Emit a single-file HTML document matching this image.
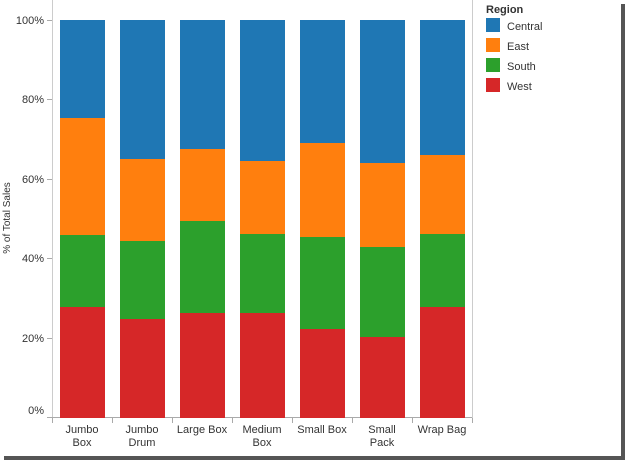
<!DOCTYPE html>
<html><head><style>
body{margin:0;background:#fff}
svg text{font-family:"Liberation Sans",Arial,sans-serif;font-size:11px;fill:#333}
</style></head><body>
<svg width="627" height="462" xmlns="http://www.w3.org/2000/svg">
<rect x="0" y="0" width="621" height="456" fill="#fff"/>
<rect x="621" y="4" width="4" height="454" fill="#555"/>
<rect x="4" y="456" width="621" height="4" fill="#555"/>
<line x1="472.5" y1="0" x2="472.5" y2="418" stroke="#ccc"/>
<line x1="52.5" y1="0" x2="52.5" y2="418" stroke="#ccc"/>
<line x1="52" y1="417.5" x2="472" y2="417.5" stroke="#aaa"/>
<g stroke="#aaa">
<line x1="52.5" y1="418" x2="52.5" y2="423"/><line x1="112.5" y1="418" x2="112.5" y2="423"/>
<line x1="172.5" y1="418" x2="172.5" y2="423"/><line x1="232.5" y1="418" x2="232.5" y2="423"/>
<line x1="292.5" y1="418" x2="292.5" y2="423"/><line x1="352.5" y1="418" x2="352.5" y2="423"/>
<line x1="412.5" y1="418" x2="412.5" y2="423"/><line x1="472.5" y1="418" x2="472.5" y2="423"/>
<line x1="47" y1="20.5" x2="52" y2="20.5"/><line x1="47" y1="99.5" x2="52" y2="99.5"/>
<line x1="47" y1="179.5" x2="52" y2="179.5"/><line x1="47" y1="258.5" x2="52" y2="258.5"/>
<line x1="47" y1="338.5" x2="52" y2="338.5"/><line x1="47" y1="417.5" x2="52" y2="417.5"/>
</g>
<g text-anchor="end">
<text x="44" y="24">100%</text><text x="44" y="103">80%</text><text x="44" y="183">60%</text>
<text x="44" y="262">40%</text><text x="44" y="342">20%</text><text x="44" y="414">0%</text>
</g>
<text transform="translate(10,218) rotate(-90)" text-anchor="middle" style="font-size:10px">% of Total Sales</text>
<g id="bars">
<rect x="60" y="20" width="45" height="98" fill="#1f77b4"/><rect x="60" y="118" width="45" height="117" fill="#ff7f0e"/><rect x="60" y="235" width="45" height="72" fill="#2ca02c"/><rect x="60" y="307" width="45" height="111" fill="#d62728"/>
<rect x="120" y="20" width="45" height="139" fill="#1f77b4"/><rect x="120" y="159" width="45" height="82" fill="#ff7f0e"/><rect x="120" y="241" width="45" height="78" fill="#2ca02c"/><rect x="120" y="319" width="45" height="99" fill="#d62728"/>
<rect x="180" y="20" width="45" height="129" fill="#1f77b4"/><rect x="180" y="149" width="45" height="72" fill="#ff7f0e"/><rect x="180" y="221" width="45" height="92" fill="#2ca02c"/><rect x="180" y="313" width="45" height="105" fill="#d62728"/>
<rect x="240" y="20" width="45" height="141" fill="#1f77b4"/><rect x="240" y="161" width="45" height="73" fill="#ff7f0e"/><rect x="240" y="234" width="45" height="79" fill="#2ca02c"/><rect x="240" y="313" width="45" height="105" fill="#d62728"/>
<rect x="300" y="20" width="45" height="123" fill="#1f77b4"/><rect x="300" y="143" width="45" height="94" fill="#ff7f0e"/><rect x="300" y="237" width="45" height="92" fill="#2ca02c"/><rect x="300" y="329" width="45" height="89" fill="#d62728"/>
<rect x="360" y="20" width="45" height="143" fill="#1f77b4"/><rect x="360" y="163" width="45" height="84" fill="#ff7f0e"/><rect x="360" y="247" width="45" height="90" fill="#2ca02c"/><rect x="360" y="337" width="45" height="81" fill="#d62728"/>
<rect x="420" y="20" width="45" height="135" fill="#1f77b4"/><rect x="420" y="155" width="45" height="79" fill="#ff7f0e"/><rect x="420" y="234" width="45" height="73" fill="#2ca02c"/><rect x="420" y="307" width="45" height="111" fill="#d62728"/>
</g>
<g text-anchor="middle">
<text x="82" y="433">Jumbo</text><text x="82" y="446">Box</text>
<text x="142" y="433">Jumbo</text><text x="142" y="446">Drum</text>
<text x="202" y="433">Large Box</text>
<text x="262" y="433">Medium</text><text x="262" y="446">Box</text>
<text x="322" y="433">Small Box</text>
<text x="382" y="433">Small</text><text x="382" y="446">Pack</text>
<text x="442" y="433">Wrap Bag</text>
</g>
<text x="486" y="13" style="font-weight:bold">Region</text>
<rect x="486" y="18" width="14" height="14" fill="#1f77b4"/><text x="507" y="30">Central</text>
<rect x="486" y="38" width="14" height="14" fill="#ff7f0e"/><text x="507" y="50">East</text>
<rect x="486" y="58" width="14" height="14" fill="#2ca02c"/><text x="507" y="70">South</text>
<rect x="486" y="78" width="14" height="14" fill="#d62728"/><text x="507" y="90">West</text>
</svg>
</body></html>
